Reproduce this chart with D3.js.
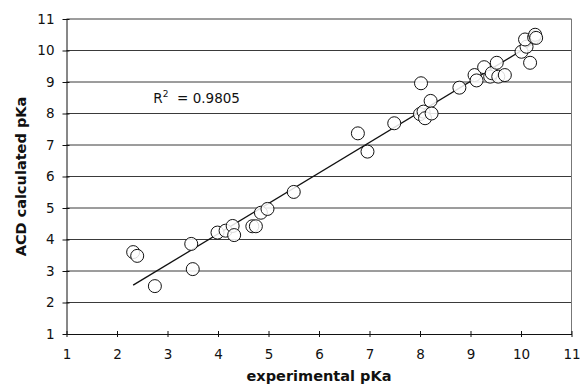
<!DOCTYPE html>
<html>
<head>
<meta charset="utf-8">
<script src="https://cdn.jsdelivr.net/npm/d3@7"></script>
<style>
  body { margin: 0; background: #fff; }
  text { font-family: "DejaVu Sans", Verdana, sans-serif; }
</style>
</head>
<body>
<svg id="chart" width="581" height="384"></svg>
<script>
// experimental vs calculated pKa
const expPKa = [2.32, 2.40, 2.75, 3.47, 3.50, 3.99, 4.15, 4.29, 4.32, 4.68, 4.75, 4.85, 4.98, 5.50,
  6.77, 6.96, 7.49, 8.00, 8.02, 8.07, 8.10, 8.21, 8.23, 8.78,
  9.08, 9.12, 9.27, 9.39, 9.42, 9.52, 9.55, 9.68, 10.01, 10.11, 10.08, 10.18, 10.26, 10.28, 10.30];
const calcPKa = [3.60, 3.48, 2.52, 3.86, 3.06, 4.22, 4.28, 4.43, 4.14, 4.42, 4.42, 4.85, 4.97, 5.51,
  7.37, 6.79, 7.69, 7.98, 8.96, 8.06, 7.85, 8.40, 8.00, 8.82,
  9.22, 9.05, 9.47, 9.17, 9.28, 9.61, 9.17, 9.22, 9.96, 10.12, 10.35, 9.61, 10.42, 10.50, 10.40];

// trendline end points
const trendX = [2.32, 10.30];
const trendY = [2.55, 10.28];

const xTicks = [1, 2, 3, 4, 5, 6, 7, 8, 9, 10, 11];
const yTicks = [1, 2, 3, 4, 5, 6, 7, 8, 9, 10, 11];

let svg = d3.select('#chart');
let margin = { top: 19, right: 9.5, bottom: 50, left: 66.5 };
let width = 581 - margin.left - margin.right;
let height = 384 - margin.top - margin.bottom;

let g = svg.append('g').attr('transform', `translate(${margin.left},${margin.top})`);

const xScale = d3.scaleLinear().domain([1, 11]).range([0, width]);
const yScale = d3.scaleLinear().domain([1, 11]).range([height, 0]);

// horizontal gridlines
g.selectAll('line.grid').data(yTicks.slice(1))
  .join('line')
  .attr('class', 'grid')
  .attr('x1', 0).attr('x2', width)
  .attr('y1', d => yScale(d)).attr('y2', d => yScale(d))
  .attr('stroke', '#3a3a3a').attr('stroke-width', 1);

// right border
g.append('line')
  .attr('x1', width).attr('x2', width).attr('y1', 0).attr('y2', height)
  .attr('stroke', '#777');

// axes
let xAxis = d3.axisBottom(xScale).tickValues(xTicks).tickSizeInner(3).tickSizeOuter(0).tickPadding(12);
let yAxis = d3.axisLeft(yScale).tickValues(yTicks).tickSizeInner(4).tickSizeOuter(0).tickPadding(8);

let gx = g.append('g').attr('transform', `translate(0,${height})`).call(xAxis);
let gy = g.append('g').call(yAxis);

[gx, gy].forEach(a => {
  a.select('.domain').attr('stroke', '#111');
  a.selectAll('.tick line').attr('stroke', '#111');
  a.selectAll('.tick text').attr('font-size', 13.5).attr('fill', '#111')
    .style('font-family', '"DejaVu Sans", Verdana, sans-serif');
});
// ticks cross the axis lines
gx.selectAll('.tick line').attr('y1', -3).attr('y2', 3);
gy.selectAll('.tick line').attr('x1', -4).attr('x2', 3);

// trendline
const line = d3.line().x(d => xScale(d[0])).y(d => yScale(d[1]));
g.append('path')
  .datum(trendX.map((x, i) => [x, trendY[i]]))
  .attr('d', line)
  .attr('fill', 'none')
  .attr('stroke', '#111')
  .attr('stroke-width', 1.3);

// points
g.selectAll('circle').data(expPKa.map((x, i) => [x, calcPKa[i]]))
  .join('circle')
  .attr('cx', d => xScale(d[0]))
  .attr('cy', d => yScale(d[1]))
  .attr('r', 6.5)
  .attr('fill', '#fff')
  .attr('fill-opacity', 0.85)
  .attr('stroke', '#111')
  .attr('stroke-width', 1);

// R squared label
let r2 = g.append('text')
  .attr('x', xScale(2.72))
  .attr('y', yScale(8.33))
  .attr('font-size', 13.5)
  .attr('fill', '#111');
r2.append('tspan').text('R');
r2.append('tspan').text('2').attr('font-size', 9).attr('dy', -6);
r2.append('tspan').text('\u00a0\u00a0=\u00a00.9805').attr('dy', 6);

// axis titles
svg.append('text')
  .attr('x', margin.left + width / 2)
  .attr('y', 381)
  .attr('text-anchor', 'middle')
  .attr('font-size', 14.5)
  .attr('font-weight', 'bold')
  .attr('fill', '#111')
  .text('experimental pKa');

svg.append('text')
  .attr('transform', `translate(26,${margin.top + height / 2}) rotate(-90)`)
  .attr('text-anchor', 'middle')
  .attr('font-size', 14.5)
  .attr('font-weight', 'bold')
  .attr('fill', '#111')
  .text('ACD calculated pKa');
</script>
</body>
</html>
